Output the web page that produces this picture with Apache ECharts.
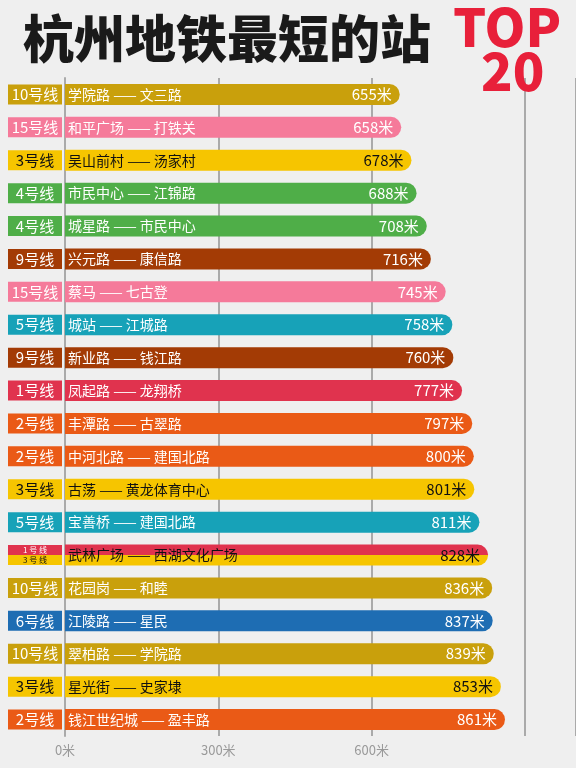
<!DOCTYPE html>
<html><head><meta charset="utf-8">
<script src="https://cdn.jsdelivr.net/npm/echarts@6/dist/echarts.min.js"></script>
<style>html,body{margin:0;background:#efefef}#c{width:576px;height:768px}</style>
</head><body><div id="c"></div>
<script>
const lines = ['10','15','3','4','4','9','15','5','9','1','2','2','3','5','1/3','10','6','10','3','2'];
const stations = ['学院路 —— 文三路','和平广场 —— 打铁关','吴山前村 —— 汤家村','市民中心 —— 江锦路','城星路 —— 市民中心','兴元路 —— 康信路','蔡马 —— 七古登','城站 —— 江城路','新业路 —— 钱江路','凤起路 —— 龙翔桥','丰潭路 —— 古翠路','中河北路 —— 建国北路','古荡 —— 黄龙体育中心','宝善桥 —— 建国北路','武林广场 —— 西湖文化广场','花园岗 —— 和睦','江陵路 —— 星民','翠柏路 —— 学院路','星光街 —— 史家埭','钱江世纪城 —— 盈丰路'];
const distances = [655,658,678,688,708,716,745,758,760,777,797,800,801,811,828,836,837,839,853,861];
const xTicks = [0,300,600];

const colors = {'10':'#C9A00C','15':'#F57A9A','3':'#F6C500','4':'#4FAE48','9':'#A33B05','5':'#17A2B8','1':'#E0334E','2':'#EA5A16','6':'#1E6DB3'};
const dark = l => l==='3'||l==='1/3';
const barColor = l => l==='1/3' ? new echarts.graphic.LinearGradient(0,0,0,1,[{offset:0,color:colors['1']},{offset:0.5,color:colors['1']},{offset:0.5,color:colors['3']},{offset:1,color:colors['3']}]) : colors[l];

const rich = {};
Object.keys(colors).forEach(k=>{
  rich['l'+k] = {backgroundColor:colors[k],color:k==='3'?'#111':'#fff',fontSize:15,width:54,height:20,align:'center'};
});
rich.a = {backgroundColor:colors['1'],color:'#fff',fontSize:8,width:54,height:10,align:'center',lineHeight:10};
rich.b = {backgroundColor:colors['3'],color:'#111',fontSize:8,width:54,height:10,align:'center',lineHeight:10};

const chart = echarts.init(document.getElementById('c'));
chart.setOption({
  backgroundColor:'#efefef',
  textStyle:{fontFamily:'"Noto Sans CJK SC", sans-serif'},
  title:[
    {text:'杭州地铁最短的站',left:18,top:8,textStyle:{fontSize:51,fontWeight:900,color:'#1a1a1a',fontFamily:'"Noto Sans CJK SC"'}},
    {text:'TOP',left:448,top:-4,textStyle:{fontSize:52,fontWeight:900,color:'#E8203A',fontFamily:'"Noto Sans CJK SC"'}},
    {text:'20',left:476,top:40,textStyle:{fontSize:52,fontWeight:900,color:'#E8203A',fontFamily:'"Noto Sans CJK SC"'}}
  ],
  grid:{left:65,top:78,width:578,height:658},
  xAxis:{type:'value',min:0,max:1000,interval:300,
    axisLabel:{color:'#999',fontSize:13,formatter:v=>xTicks.includes(v)?v+'米':'',showMaxLabel:false},
    splitLine:{lineStyle:{color:'#aaa',width:2}},axisLine:{show:false},axisTick:{show:false}},
  yAxis:{type:'category',inverse:true,data:lines,axisLine:{show:true,lineStyle:{color:'#aaa',width:2}},axisTick:{show:false},
    axisLabel:{margin:3,formatter:v=>v==='1/3'?'{a|1 号 线}\n{b|3 号 线}':'{l'+v+'|'+v+'号线}',rich:rich}},
  series:[{type:'bar',barWidth:21,z:3,
    data:distances.map((d,i)=>({value:d,itemStyle:{color:barColor(lines[i]),borderRadius:[0,11,11,0]},
      label:{show:true,position:'insideLeft',distance:3,formatter:stations[i],color:dark(lines[i])?'#111':'#fff',fontSize:14}})),
  },{type:'bar',barWidth:21,barGap:'-100%',z:4,itemStyle:{color:'transparent'},
    data:distances.map((d,i)=>({value:d,label:{show:true,position:'insideRight',distance:8,formatter:d+'米',color:dark(lines[i])?'#111':'#fff',fontSize:15}}))
  }]
});
</script></body></html>
